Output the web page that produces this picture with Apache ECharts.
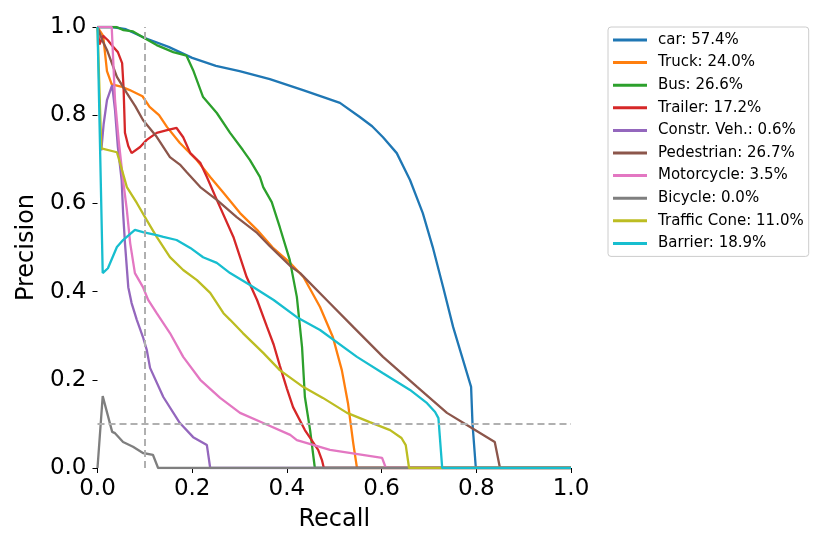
<!DOCTYPE html>
<html>
<head>
<meta charset="utf-8">
<script src="https://cdn.jsdelivr.net/npm/echarts@6/dist/echarts.min.js"></script>
<style>
html,body{margin:0;padding:0;background:#fff;}
#chart{width:830px;height:554px;}
</style>
</head>
<body>
<div id="chart"></div>
<script>
const classNames = ['car','Truck','Bus','Trailer','Constr. Veh.','Pedestrian','Motorcycle','Bicycle','Traffic Cone','Barrier'];
const apValues = ['57.4','24.0','26.6','17.2','0.6','26.7','3.5','0.0','11.0','18.9'];
const colors = ['#1f77b4','#ff7f0e','#2ca02c','#d62728','#9467bd','#8c564b','#e377c2','#7f7f7f','#bcbd22','#17becf'];
const xTicks = [0,0.2,0.4,0.6,0.8,1.0];
const yTicks = [0,0.2,0.4,0.6,0.8,1.0];
const thresholdRecall = 0.1;
const thresholdPrecision = 0.1;

const carPR = [[0,1],[0.03,1],[0.06,0.995],[0.1,0.975],[0.15,0.955],[0.2,0.93],[0.25,0.912],[0.3,0.9],[0.364,0.882],[0.434,0.857],[0.48,0.84],[0.512,0.828],[0.554,0.796],[0.58,0.775],[0.603,0.75],[0.632,0.714],[0.66,0.653],[0.687,0.578],[0.708,0.501],[0.73,0.41],[0.751,0.32],[0.77,0.252],[0.789,0.184],[0.792,0.1],[0.799,0],[1,0]];
const truckPR = [[0,1],[0.012,0.98],[0.02,0.9],[0.03,0.87],[0.05,0.865],[0.068,0.857],[0.095,0.843],[0.11,0.819],[0.13,0.8],[0.147,0.773],[0.174,0.737],[0.21,0.698],[0.238,0.66],[0.266,0.624],[0.301,0.578],[0.337,0.54],[0.37,0.5],[0.407,0.465],[0.435,0.433],[0.47,0.365],[0.497,0.297],[0.516,0.222],[0.529,0.147],[0.54,0.057],[0.548,0],[1,0]];
const busPR = [[0,1],[0.04,1],[0.055,0.993],[0.075,0.99],[0.096,0.977],[0.125,0.959],[0.16,0.943],[0.188,0.935],[0.202,0.902],[0.223,0.841],[0.252,0.805],[0.28,0.76],[0.307,0.721],[0.322,0.698],[0.343,0.66],[0.35,0.637],[0.368,0.603],[0.385,0.546],[0.406,0.472],[0.421,0.388],[0.432,0.274],[0.438,0.161],[0.449,0.086],[0.459,0],[1,0]];
const trailerPR = [[0,1],[0.004,0.96],[0.012,0.98],[0.022,0.97],[0.033,0.955],[0.043,0.943],[0.052,0.918],[0.055,0.864],[0.058,0.76],[0.065,0.73],[0.072,0.714],[0.09,0.728],[0.104,0.744],[0.125,0.76],[0.147,0.766],[0.167,0.771],[0.181,0.75],[0.196,0.714],[0.217,0.692],[0.231,0.66],[0.252,0.608],[0.287,0.524],[0.315,0.433],[0.337,0.381],[0.358,0.32],[0.372,0.28],[0.385,0.232],[0.4,0.18],[0.413,0.138],[0.438,0.086],[0.466,0.041],[0.474,0.018],[0.478,0],[1,0]];
const constrPR = [[0.008,0.72],[0.013,0.78],[0.02,0.834],[0.031,0.868],[0.037,0.812],[0.043,0.728],[0.051,0.653],[0.054,0.58],[0.058,0.51],[0.065,0.41],[0.072,0.374],[0.083,0.336],[0.096,0.297],[0.104,0.268],[0.111,0.227],[0.139,0.161],[0.174,0.102],[0.202,0.07],[0.231,0.052],[0.238,0],[1,0]];
const pedestrianPR = [[0,1],[0.01,0.97],[0.02,0.948],[0.041,0.887],[0.062,0.85],[0.08,0.82],[0.096,0.789],[0.125,0.751],[0.153,0.705],[0.174,0.688],[0.189,0.67],[0.217,0.637],[0.252,0.608],[0.294,0.569],[0.337,0.533],[0.364,0.503],[0.407,0.458],[0.428,0.442],[0.484,0.381],[0.54,0.32],[0.603,0.252],[0.675,0.184],[0.738,0.125],[0.787,0.093],[0.839,0.059],[0.85,0],[1,0]];
const motorcyclePR = [[0,1],[0.03,1],[0.037,0.834],[0.045,0.74],[0.054,0.653],[0.062,0.585],[0.069,0.51],[0.079,0.442],[0.096,0.41],[0.107,0.381],[0.125,0.351],[0.153,0.306],[0.181,0.252],[0.217,0.2],[0.259,0.159],[0.301,0.125],[0.35,0.102],[0.407,0.075],[0.421,0.063],[0.491,0.041],[0.601,0.023],[0.609,0],[1,0]];
const bicyclePR = [[0,0],[0.011,0.163],[0.031,0.082],[0.037,0.079],[0.054,0.059],[0.075,0.048],[0.096,0.034],[0.117,0.03],[0.128,0],[1,0]];
const conePR = [[0,1],[0.008,0.725],[0.041,0.716],[0.048,0.69],[0.062,0.637],[0.083,0.601],[0.104,0.562],[0.125,0.524],[0.153,0.478],[0.181,0.449],[0.21,0.426],[0.238,0.397],[0.266,0.351],[0.28,0.336],[0.307,0.306],[0.35,0.261],[0.385,0.222],[0.434,0.184],[0.476,0.159],[0.527,0.125],[0.575,0.104],[0.618,0.086],[0.642,0.068],[0.651,0.052],[0.658,0],[1,0]];
const barrierPR = [[0,1],[0.011,0.442],[0.022,0.453],[0.041,0.501],[0.054,0.517],[0.079,0.54],[0.096,0.535],[0.125,0.528],[0.139,0.524],[0.167,0.517],[0.196,0.499],[0.223,0.478],[0.252,0.465],[0.28,0.442],[0.322,0.415],[0.372,0.381],[0.421,0.342],[0.47,0.313],[0.548,0.252],[0.603,0.215],[0.66,0.177],[0.696,0.147],[0.713,0.127],[0.72,0.113],[0.728,0],[1,0]];

const curves = [carPR,truckPR,busPR,trailerPR,constrPR,pedestrianPR,motorcyclePR,bicyclePR,conePR,barrierPR];
const FONT = 'DejaVu Sans';
const labels = classNames.map((n,i)=> n + ': ' + apValues[i] + '%');

const series = [{
  type:'line', name:'__thresholds', data:[], z:1, silent:true,
  markLine:{
    silent:true, symbol:'none', label:{show:false},
    lineStyle:{color:'#b0b0b0', type:[7,4], width:2},
    data:[{xAxis:thresholdRecall},{yAxis:thresholdPrecision}]
  }
}];
curves.forEach((d,i)=>{
  series.push({
    type:'line', name:labels[i], data:d, showSymbol:false, symbol:'none',
    z:2, lineStyle:{width:2.3, color:colors[i]}, itemStyle:{color:colors[i]},
    animation:false
  });
});

const chart = echarts.init(document.getElementById('chart'), null, {renderer:'canvas'});
chart.setOption({
  animation:false,
  backgroundColor:'#fff',
  textStyle:{fontFamily:FONT},
  grid:{left:97.5, right:259, top:27, bottom:86},
  legend:{
    data:labels, orient:'vertical', left:608, top:27,
    padding:[5,5,5,5], itemGap:6.6, itemWidth:34, itemHeight:3, icon:'rect',
    borderColor:'#cccccc', borderWidth:1, borderRadius:3,
    textStyle:{fontFamily:FONT, fontSize:15, color:'#000', lineHeight:16, padding:[0,0,0,6]},
    selectedMode:false
  },
  xAxis:{
    type:'value', min:0, max:1, interval:0.2,
    name:'Recall', nameLocation:'middle', nameGap:40,
    nameTextStyle:{fontFamily:FONT, fontSize:24, color:'#000'},
    axisLine:{show:false},
    axisTick:{show:true, length:5, lineStyle:{color:'#000', width:1}},
    axisLabel:{fontFamily:FONT, fontSize:23, color:'#000', margin:10, formatter:v=>v.toFixed(1)},
    splitLine:{show:false}
  },
  yAxis:{
    type:'value', min:0, max:1, interval:0.2,
    name:'Precision', nameLocation:'middle', nameGap:57,
    nameTextStyle:{fontFamily:FONT, fontSize:24, color:'#000'},
    axisLine:{show:false},
    axisTick:{show:true, length:5, lineStyle:{color:'#000', width:1}},
    axisLabel:{fontFamily:FONT, fontSize:23, color:'#000', margin:11, formatter:v=>v.toFixed(1)},
    splitLine:{show:false}
  },
  series:series
});
</script>
</body>
</html>
